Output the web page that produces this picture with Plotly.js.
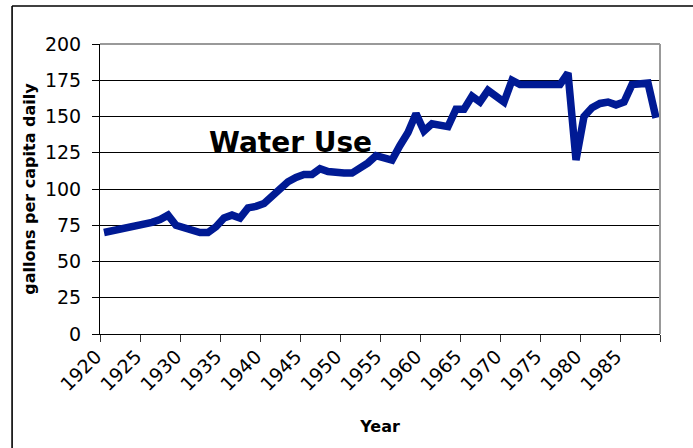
<!DOCTYPE html>
<html>
<head>
<meta charset="utf-8">
<script src="https://cdn.plot.ly/plotly-3.0.1.min.js"></script>
<style>html,body{margin:0;padding:0;background:#fff;}#chart{width:693px;height:448px;}</style>
</head>
<body>
<div id="chart"></div>
<script>
const years = [1920,1921,1922,1923,1924,1925,1926,1927,1928,1929,
  1930,1931,1932,1933,1934,1935,1936,1937,1938,1939,
  1940,1941,1942,1943,1944,1945,1946,1947,1948,1949,
  1950,1951,1952,1953,1954,1955,1956,1957,1958,1959,
  1960,1961,1962,1963,1964,1965,1966,1967,1968,1969,
  1970,1971,1972,1973,1974,1975,1976,1977,1978,1979,
  1980,1981,1982,1983,1984,1985,1986,1987,1988,1989];
const gallonsPerCapitaDaily = [70,71,72,73,74,75,77,79,82,75,
  73,71,70,70,74,80,82,80,87,88,
  90,95,100,105,108,110,110,114,112,111,
  111,111,114,118,123,122,120,130,139,152,
  140,145,144,143,155,155,164,160,168,164,
  160,175,172,172,172,173,172,172,180,120,
  150,156,159,160,158,160,172,172,173,149];
const xTickVals = [1919.5,1924.5,1929.5,1934.5,1939.5,1944.5,1949.5,1954.5,1959.5,1964.5,1969.5,1974.5,1979.5,1984.5,1989.5];
const xTickText = ['1920','1925','1930','1935','1940','1945','1950','1955','1960','1965','1970','1975','1980','1985',''];
const yTickVals = [0,25,50,75,100,125,150,175,200];

const font = 'DejaVu Sans, Verdana, sans-serif';

const trace = {
  x: years, y: gallonsPerCapitaDaily,
  type: 'scatter', mode: 'lines',
  line: {color: '#001a94', width: 7.5},
  hoverinfo: 'skip', showlegend: false
};

const layout = {
  width: 693, height: 448,
  margin: {l: 100, r: 33, t: 44, b: 114},
  paper_bgcolor: '#ffffff', plot_bgcolor: 'rgba(0,0,0,0)',
  font: {family: font, color: '#000'},
  xaxis: {
    range: [1919.5, 1989.5], tickmode: 'array', tickvals: xTickVals, ticktext: xTickText,
    tickangle: -45, ticks: 'outside', ticklen: 7, tickcolor: '#333', tickwidth: 1,
    showline: true, linecolor: '#000', linewidth: 1, showgrid: false, zeroline: false,
    tickfont: {family: font, size: 19, color: '#000'},
    ticklabelshift: -4, ticklabelstandoff: -4,
    title: {text: 'Year', font: {family: font, size: 16, color: '#000', weight: 'bold'}, standoff: 26},
    automargin: false, fixedrange: true
  },
  yaxis: {
    range: [0, 200], tickmode: 'array', tickvals: yTickVals,
    ticks: 'outside', ticklen: 7, tickcolor: '#000', tickwidth: 1,
    showline: true, linecolor: '#000', linewidth: 1,
    showgrid: true, gridcolor: '#000', gridwidth: 1, zeroline: false,
    tickfont: {family: font, size: 19, color: '#000'},
    ticklabelstandoff: 7,
    title: {text: 'gallons per capita daily', font: {family: font, size: 16, color: '#000', weight: 'bold'}, standoff: 5},
    automargin: false, fixedrange: true
  },
  annotations: [{
    text: 'Water Use', xref: 'paper', yref: 'paper', x: 0.341, y: 0.662,
    xanchor: 'center', yanchor: 'middle', showarrow: false,
    font: {family: font, size: 28, color: '#000', weight: 'bold'}
  }],
  shapes: [
    {type: 'line', xref: 'paper', yref: 'paper', x0: 0, x1: 1, y0: 1, y1: 1, line: {color: '#999999', width: 2}, layer: 'above'},
    {type: 'line', xref: 'paper', yref: 'paper', x0: 1, x1: 1, y0: 0, y1: 1, line: {color: '#999999', width: 2}, layer: 'above'},
    {type: 'line', xref: 'paper', yref: 'paper', x0: -0.157, x1: 1.3, y0: 1.131, y1: 1.131, line: {color: '#000', width: 1.6}, layer: 'below'},
    {type: 'line', xref: 'paper', yref: 'paper', x0: -0.157, x1: -0.157, y0: 1.131, y1: -0.6, line: {color: '#000', width: 1.6}, layer: 'below'}
  ]
};

Plotly.newPlot('chart', [trace], layout, {displayModeBar: false, staticPlot: true});
</script>
</body>
</html>
